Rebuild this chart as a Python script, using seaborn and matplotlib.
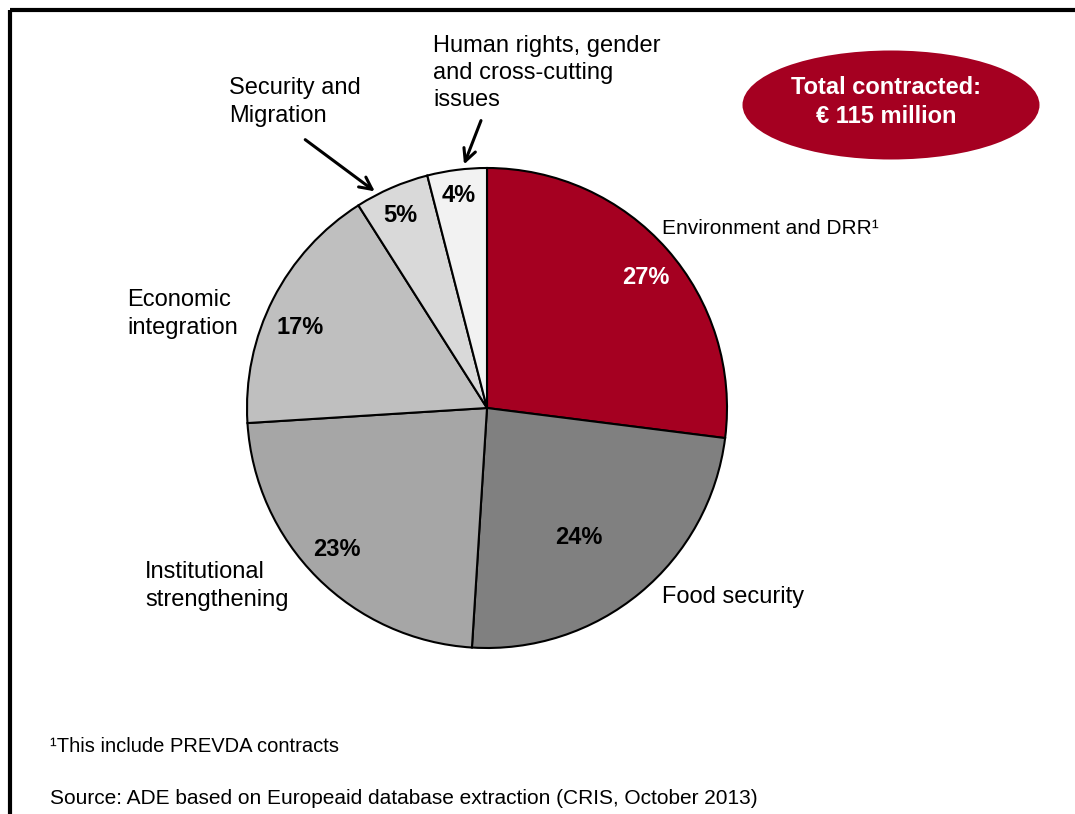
import matplotlib
matplotlib.use("Agg")
import matplotlib.pyplot as plt
import seaborn as sns
from matplotlib.patches import Ellipse

sns.set_theme(style="white")
plt.rcParams['font.family'] = ['Liberation Sans', 'DejaVu Sans']
plt.rcParams['text.color'] = 'black'

# ---- data ----
categories = ["Environment and DRR", "Food security", "Institutional strengthening",
              "Economic integration", "Security and Migration",
              "Human rights, gender and cross-cutting issues"]
shares = [27, 24, 23, 17, 5, 4]
colors = ["#A50021", "#808080", "#A6A6A6", "#BFBFBF", "#D9D9D9", "#F2F2F2"]
pct_colors = ["white", "black", "black", "black", "black", "black"]
total_text = "Total contracted:\n€ 115 million"
footnote = "¹This include PREVDA contracts"
source = "Source: ADE based on Europeaid database extraction (CRIS, October 2013)"

W, H = 1075, 814
fig = plt.figure(figsize=(W / 100, H / 100), dpi=100)
ax = fig.add_axes([0, 0, 1, 1])

def Y(py):
    return H - py

cx, cy, R = 487, 408, 240
ax.pie(shares, colors=colors, startangle=90, counterclock=False,
       center=(cx, Y(cy)), radius=R, frame=True,
       wedgeprops=dict(edgecolor="black", linewidth=1.5))
ax.set_xlim(0, W)
ax.set_ylim(0, H)
ax.axis("off")

# frame lines
ax.plot([10, 10], [Y(10), Y(814)], color="black", lw=3, solid_capstyle="butt")
ax.plot([10, 1075], [Y(10), Y(10)], color="black", lw=3, solid_capstyle="butt")

# percent labels
pct_pos = [(646, 278), (579, 538), (337, 550), (300, 327), (400, 215), (459, 195)]
for v, (px, py), c in zip(shares, pct_pos, pct_colors):
    ax.text(px, Y(py), f"{v}%", ha="center", va="center", fontsize=17,
            fontweight="bold", color=c)

LS = 1.32
# category labels
ax.text(662, Y(229), "Environment and DRR¹", ha="left", va="center", fontsize=15)
ax.text(662, Y(597), "Food security", ha="left", va="center", fontsize=17)
ax.text(145, Y(586), "Institutional\nstrengthening", ha="left", va="center",
        fontsize=17, linespacing=LS)
ax.text(127, Y(314), "Economic\nintegration", ha="left", va="center",
        fontsize=17, linespacing=LS)
ax.text(229, Y(102), "Security and\nMigration", ha="left", va="center",
        fontsize=17, linespacing=LS)
ax.text(433, Y(73), "Human rights, gender\nand cross-cutting\nissues", ha="left",
        va="center", fontsize=17, linespacing=LS)

# arrows
ax.annotate("", xy=(377, Y(193)), xytext=(303, Y(138)),
            arrowprops=dict(arrowstyle="->", lw=2.2, color="black", mutation_scale=22))
ax.annotate("", xy=(463, Y(167)), xytext=(482, Y(118)),
            arrowprops=dict(arrowstyle="->", lw=2.2, color="black", mutation_scale=22))

# total ellipse
ax.add_patch(Ellipse((891, Y(105)), 297, 109, facecolor="#A50021", edgecolor="none"))
ax.text(886, Y(102), total_text, ha="center", va="center", fontsize=17,
        fontweight="bold", color="white", linespacing=LS)

# footnotes
ax.text(50, Y(747), footnote, ha="left", va="center", fontsize=14.5)
ax.text(50, Y(799), source, ha="left", va="center", fontsize=15)

fig.savefig("out.png", dpi=100)
